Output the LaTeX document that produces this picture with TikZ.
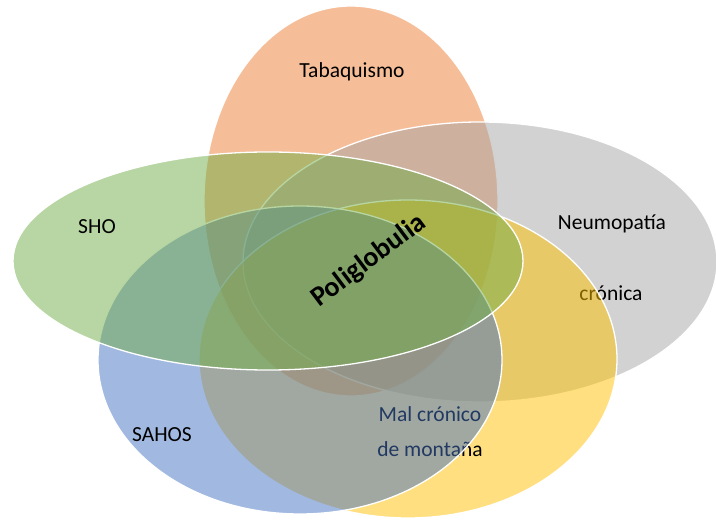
\documentclass[tikz,border=0pt]{standalone}
\usepackage{fontspec}
\setmainfont{Carlito}
\definecolor{cOrange}{HTML}{ED7D31}
\definecolor{cGray}{HTML}{A5A5A5}
\definecolor{cYellow}{HTML}{FFC000}
\definecolor{cBlue}{HTML}{4472C4}
\definecolor{cGreen}{HTML}{70AD47}
\tikzset{
  setfill/.style={fill=#1, fill opacity=0.5, draw=white, draw opacity=1, line width=1.3pt},
  lbl/.style={font=\fontsize{21.5}{25}\selectfont, text=black, inner sep=0pt, anchor=center}
}
\begin{document}
\begin{tikzpicture}[x=1pt,y=-1pt]
\useasboundingbox (0,0) rectangle (716,521);
% orange
\path[setfill=cOrange] (351,201) ellipse [x radius=147, y radius=195];
\node[lbl] (tab) at (352,72) {Tabaquismo};
% gray
\path[setfill=cGray] (480,262) ellipse [x radius=237, y radius=140];
\node[lbl] (neu1) at (612,224) {Neumopatía};
\node[lbl] (neu2) at (611,293) {crónica};
% yellow
\path[setfill=cYellow] (408,359) ellipse [x radius=209, y radius=159];
\node[lbl] (mal1) at (430,414) {Mal crónico};
\node[lbl] (mal2) at (430,449) {de montaña};
% blue
\path[setfill=cBlue] (300,360) ellipse [x radius=202, y radius=154];
\node[lbl] (sahos) at (162,435) {SAHOS};
% green
\path[setfill=cGreen] (268,261) ellipse [x radius=255, y radius=109];
\node[lbl] (sho) at (97,227) {SHO};
% center
\node[font=\bfseries\fontsize{28}{32}\selectfont, rotate=37, inner sep=0pt] (poli) at (369,261) {Poliglobulia};
\end{tikzpicture}
\end{document}
